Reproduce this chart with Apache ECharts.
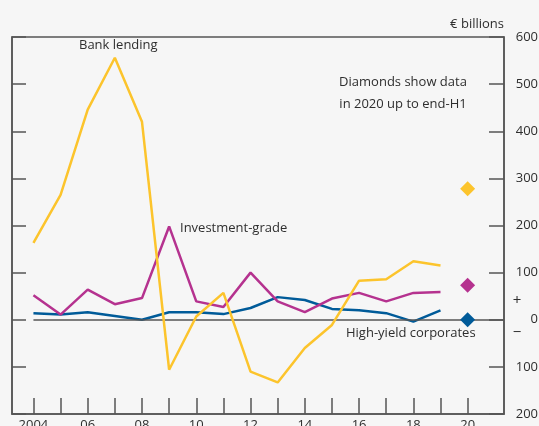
<!DOCTYPE html>
<html><head><meta charset="utf-8">
<script src="https://cdn.jsdelivr.net/npm/echarts@6/dist/echarts.min.js"></script>
<style>html,body{margin:0;padding:0;background:#f6f6f6;}#c{width:539px;height:426px;}</style>
</head><body><div id="c"></div>
<script>
const years = [2004,2005,2006,2007,2008,2009,2010,2011,2012,2013,2014,2015,2016,2017,2018,2019];
const bankLending = [163,265,446,556,420,-106,7,57,-110,-133,-60,-11,83,86,124,115];
const investmentGrade = [52,11,64,33,46,198,39,27,100,39,16,45,57,39,57,59];
const highYield = [14,11,16,8,0,16,16,12,25,48,42,23,20,14,-4,20];
const year2020 = 2020;
const bank2020 = 278, ig2020 = 73, hy2020 = 0;
const xTicks = [2004,2005,2006,2007,2008,2009,2010,2011,2012,2013,2014,2015,2016,2017,2018,2019,2020];
const xLabels = [2004,2006,2008,2010,2012,2014,2016,2018,2020];

const YEL='#fcc42c', MAG='#b5328f', BLU='#005b99', AX='#555', TXT='#2e2e2e';
const FONT='Open Sans';
const xMin = 2003.21, xMax = 2021.34;

const chart = echarts.init(document.getElementById('c'), null, {renderer:'canvas'});
const zip = a => years.map((y,i)=>[y,a[i]]);
chart.setOption({
  backgroundColor:'#f6f6f6',
  animation:false,
  textStyle:{fontFamily:FONT},
  grid:{left:12,top:37,right:35,bottom:12,outerBoundsMode:'none',containLabel:false,show:true,borderColor:AX,borderWidth:1.5,backgroundColor:'transparent'},
  xAxis:{type:'value',min:xMin,max:xMax,
    axisLine:{show:true,onZero:false,lineStyle:{color:AX,width:1.5}},
    axisTick:{show:true,inside:true,length:16,lineStyle:{color:AX,width:1.5},customValues:xTicks},
    axisLabel:{show:true,margin:5,fontSize:13,color:TXT,fontFamily:FONT,customValues:xLabels,
      formatter:v=> v===2004?'2004':String(v%100).padStart(2,'0')},
    splitLine:{show:false}},
  yAxis:[
    {type:'value',position:'right',min:-200,max:600,interval:100,
     axisLine:{show:true,onZero:false,lineStyle:{color:AX,width:1.5}},
     axisTick:{show:true,inside:true,length:15,lineStyle:{color:AX,width:1.5}},
     axisLabel:{show:true,inside:false,margin:34,align:'right',fontSize:13,color:TXT,fontFamily:FONT,
       formatter:v=>String(Math.abs(v))},
     splitLine:{show:false}},
    {type:'value',position:'left',min:-200,max:600,interval:100,
     axisLine:{show:true,onZero:false,lineStyle:{color:AX,width:1.5}},
     axisTick:{show:true,inside:true,length:14,lineStyle:{color:AX,width:1.5}},
     axisLabel:{show:false},splitLine:{show:false}}
  ],
  series:[
    {type:'line',name:'zero',data:[],symbol:'none',silent:true,
     markLine:{silent:true,symbol:'none',label:{show:false},lineStyle:{color:AX,width:1.5,type:'solid'},
       data:[[{coord:[2004,0]},{coord:[xMax,0]}]]}},
    {type:'line',name:'High-yield corporates',data:zip(highYield),symbol:'none',lineStyle:{color:BLU,width:2.5},z:3},
    {type:'line',name:'Investment-grade',data:zip(investmentGrade),symbol:'none',lineStyle:{color:MAG,width:2.5},z:4},
    {type:'line',name:'Bank lending',data:zip(bankLending),symbol:'none',lineStyle:{color:YEL,width:2.5},z:5},
    {type:'scatter',data:[[year2020,bank2020]],symbol:'diamond',symbolSize:[15,15],itemStyle:{color:YEL,opacity:1},z:6},
    {type:'scatter',data:[[year2020,ig2020]],symbol:'diamond',symbolSize:[15,15],itemStyle:{color:MAG,opacity:1},z:6},
    {type:'scatter',data:[[year2020,hy2020]],symbol:'diamond',symbolSize:[15,15],itemStyle:{color:BLU,opacity:1},z:6}
  ],
  graphic:[
    {type:'text',right:35,top:18,style:{text:'€ billions',font:'13px "Open Sans"',fill:TXT}},
    {type:'text',x:79,y:39,style:{text:'Bank lending',font:'13px "Open Sans"',fill:TXT}},
    {type:'text',x:180,y:222,style:{text:'Investment-grade',font:'13px "Open Sans"',fill:TXT}},
    {type:'text',x:346,y:327,style:{text:'High-yield corporates',font:'13px "Open Sans"',fill:TXT}},
    {type:'text',x:403,y:71,style:{text:'Diamonds show data\nin 2020 up to end-H1',font:'13px "Open Sans"',fill:TXT,align:'center',lineHeight:22}},
    {type:'text',x:517,y:301,style:{text:'+',font:'15px "Open Sans"',fill:TXT,align:'center',verticalAlign:'middle'}},
    {type:'text',x:517,y:333,style:{text:'−',font:'15px "Open Sans"',fill:TXT,align:'center',verticalAlign:'middle'}}
  ]
});
</script></body></html>
